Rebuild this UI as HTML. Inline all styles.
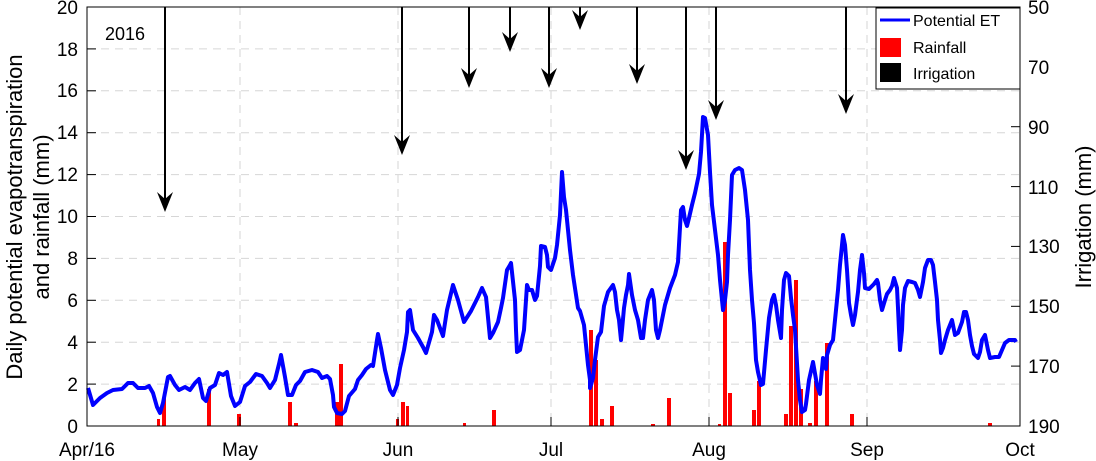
<!DOCTYPE html>
<html><head><style>
body{margin:0;background:#fff;}
svg{display:block;font-family:"Liberation Sans",sans-serif;}
</style></head><body>
<svg width="1096" height="461" viewBox="0 0 1096 461">
<rect width="1096" height="461" fill="#fff"/>
<g stroke="#d6d6d6" stroke-width="1" stroke-dasharray="8,6">
<line x1="240" y1="7" x2="240" y2="426"/><line x1="398" y1="7" x2="398" y2="426"/><line x1="551" y1="7" x2="551" y2="426"/><line x1="709" y1="7" x2="709" y2="426"/><line x1="867" y1="7" x2="867" y2="426"/>
<line x1="87" y1="384.1" x2="1020" y2="384.1"/><line x1="87" y1="342.2" x2="1020" y2="342.2"/><line x1="87" y1="300.3" x2="1020" y2="300.3"/><line x1="87" y1="258.4" x2="1020" y2="258.4"/><line x1="87" y1="216.5" x2="1020" y2="216.5"/><line x1="87" y1="174.6" x2="1020" y2="174.6"/><line x1="87" y1="132.7" x2="1020" y2="132.7"/><line x1="87" y1="90.8" x2="1020" y2="90.8"/><line x1="87" y1="48.9" x2="1020" y2="48.9"/>
</g>
<g fill="#ff0000">
<rect x="157" y="419" width="3" height="7"/><rect x="162" y="398" width="4" height="28"/><rect x="207" y="389" width="4" height="37"/><rect x="237" y="414" width="4" height="12"/><rect x="288" y="402" width="4" height="24"/><rect x="294" y="423" width="4" height="3"/><rect x="335" y="402" width="4" height="24"/><rect x="339" y="364" width="4" height="62"/><rect x="396" y="419" width="3" height="7"/><rect x="401" y="402" width="4" height="24"/><rect x="406" y="406" width="3" height="20"/><rect x="463" y="423" width="3" height="3"/><rect x="492" y="410" width="4" height="16"/><rect x="589" y="330" width="4" height="96"/><rect x="594" y="360" width="4" height="66"/><rect x="600" y="419" width="4" height="7"/><rect x="610" y="406" width="4" height="20"/><rect x="651" y="424" width="4" height="2"/><rect x="667" y="398" width="4" height="28"/><rect x="718" y="424" width="3" height="2"/><rect x="723" y="242" width="4" height="184"/><rect x="728" y="393" width="4" height="33"/><rect x="752" y="410" width="4" height="16"/><rect x="757" y="381" width="4" height="45"/><rect x="784" y="414" width="4" height="12"/><rect x="789" y="326" width="4" height="100"/><rect x="794" y="280" width="4" height="146"/><rect x="799" y="389" width="4" height="37"/><rect x="808" y="423" width="4" height="3"/><rect x="814" y="381" width="4" height="45"/><rect x="825" y="343" width="4" height="83"/><rect x="850" y="414" width="4" height="12"/><rect x="988" y="423" width="4" height="3"/>
</g>
<polyline fill="none" stroke="#0000ff" stroke-width="4" stroke-linejoin="round" points="88,388 93,405 100,398 107,393 113,390 122,389 128,383 133,383 138,388 145,388 149,386 153,393 157,407 160,413 163,403 168,377 170,376 175,385 179,390 185,387 190,390 195,383 199,379 203,398 206,401 210,388 215,385 219,373 223,375 227,372 231,396 235,406 240,402 245,386 250,382 256,374 262,376 267,383 270,388 275,380 279,364 281,355 285,377 288,395 292,395 296,385 300,381 305,372 312,370 318,372 322,378 327,376 330,379 333,395 334,407 337,413 342,414 345,411 349,396 355,389 358,380 362,375 366,369 371,365 373,366 377,340 378,334 381,348 385,370 390,390 393,395 397,385 400,368 404,350 407,332 408,312 410,310 413,330 418,338 423,347 426,353 432,332 434,315 437,320 443,336 447,310 453,285 458,300 464,322 471,311 478,297 482,288 486,297 487,307 490,338 493,333 498,322 501,308 503,298 507,270 510,265 511,263 515,300 516,330 517,352 520,350 524,330 526,300 527,285 529,290 532,290 535,300 537,296 540,266 541,246 545,247 547,255 548,267 551,270 552,267 555,258 557,245 560,215 562,172 564,197 566,210 570,250 573,275 578,308 580,311 584,325 586,345 588,365 590,380 590,388 593,378 595,360 598,337 601,332 604,306 608,292 613,285 615,292 617,310 619,320 621,340 622,330 624,308 626,295 628,285 629,274 632,295 635,310 638,320 641,338 643,338 645,320 648,300 650,295 652,290 654,300 656,330 658,338 660,330 664,310 665,305 670,288 675,275 678,262 681,210 683,207 685,220 687,226 689,218 692,205 695,193 699,174 701,152 703,117 705,118 708,135 710,172 712,205 715,230 718,255 720,280 722,300 723,310 725,300 727,282 728,255 730,220 732,175 735,170 739,168 742,170 745,190 748,220 750,270 752,300 754,323 756,360 758,372 761,385 763,384 766,350 769,318 772,300 774,295 776,305 778,320 781,338 782,310 784,280 786,273 789,276 791,298 793,315 795,330 798,380 800,400 802,412 805,410 806,404 809,380 813,362 817,385 820,394 821,380 823,358 826,369 827,355 830,345 833,340 836,310 838,290 840,265 842,245 843,235 845,245 847,270 848,286 849,303 851,315 853,325 855,315 858,292 860,270 862,255 864,273 865,288 869,289 874,284 877,280 878,283 880,300 882,310 885,300 887,294 890,290 892,286 894,278 897,288 898,308 899,330 900,350 902,330 903,305 905,288 908,281 912,282 915,283 918,290 920,297 923,282 925,268 928,260 931,260 933,265 935,282 937,300 938,320 940,340 941,353 943,348 945,340 948,330 950,325 952,320 954,330 955,335 958,333 962,322 964,312 966,312 968,320 970,335 972,346 974,354 978,358 980,352 982,340 985,335 988,350 990,358 995,357 999,357 1002,350 1005,343 1009,340 1015,340 1016,342"/>
<g stroke="#000" stroke-width="2" fill="#000">
<line x1="165" y1="7" x2="165" y2="200"/><polygon stroke="none" points="165,212 157,192 165,199 173,192"/>
<line x1="402" y1="7" x2="402" y2="143"/><polygon stroke="none" points="402,155 394,135 402,142 410,135"/>
<line x1="469" y1="7" x2="469" y2="76"/><polygon stroke="none" points="469,88 461,68 469,75 477,68"/>
<line x1="510" y1="7" x2="510" y2="40"/><polygon stroke="none" points="510,52 502,32 510,39 518,32"/>
<line x1="549" y1="7" x2="549" y2="76"/><polygon stroke="none" points="549,88 541,68 549,75 557,68"/>
<line x1="580" y1="7" x2="580" y2="18"/><polygon stroke="none" points="580,30 572,10 580,17 588,10"/>
<line x1="637" y1="7" x2="637" y2="72"/><polygon stroke="none" points="637,84 629,64 637,71 645,64"/>
<line x1="686" y1="7" x2="686" y2="158"/><polygon stroke="none" points="686,170 678,150 686,157 694,150"/>
<line x1="716" y1="7" x2="716" y2="108"/><polygon stroke="none" points="716,120 708,100 716,107 724,100"/>
<line x1="846" y1="7" x2="846" y2="102"/><polygon stroke="none" points="846,114 838,94 846,101 854,94"/>
</g>
<rect x="87" y="7" width="933" height="419" fill="none" stroke="#000" stroke-width="1"/>
<g stroke="#000" stroke-width="1">
<line x1="240" y1="426" x2="240" y2="417"/><line x1="398" y1="426" x2="398" y2="417"/><line x1="551" y1="426" x2="551" y2="417"/><line x1="709" y1="426" x2="709" y2="417"/><line x1="867" y1="426" x2="867" y2="417"/>
<line x1="87" y1="384.1" x2="96" y2="384.1"/><line x1="87" y1="342.2" x2="96" y2="342.2"/><line x1="87" y1="300.3" x2="96" y2="300.3"/><line x1="87" y1="258.4" x2="96" y2="258.4"/><line x1="87" y1="216.5" x2="96" y2="216.5"/><line x1="87" y1="174.6" x2="96" y2="174.6"/><line x1="87" y1="132.7" x2="96" y2="132.7"/><line x1="87" y1="90.8" x2="96" y2="90.8"/><line x1="87" y1="48.9" x2="96" y2="48.9"/>
<line x1="1020" y1="66.9" x2="1011" y2="66.9"/><line x1="1020" y1="126.7" x2="1011" y2="126.7"/><line x1="1020" y1="186.6" x2="1011" y2="186.6"/><line x1="1020" y1="246.4" x2="1011" y2="246.4"/><line x1="1020" y1="306.3" x2="1011" y2="306.3"/><line x1="1020" y1="366.1" x2="1011" y2="366.1"/>
</g>
<g font-size="19" fill="#000" text-anchor="end">
<text x="78" y="433">0</text><text x="78" y="391">2</text><text x="78" y="349">4</text><text x="78" y="307">6</text><text x="78" y="265">8</text><text x="78" y="223">10</text><text x="78" y="181">12</text><text x="78" y="139">14</text><text x="78" y="97">16</text><text x="78" y="56">18</text><text x="78" y="14">20</text>
</g>
<g font-size="19" fill="#000">
<text x="1028" y="14">50</text><text x="1028" y="74">70</text><text x="1028" y="134">90</text><text x="1028" y="194">110</text><text x="1028" y="253">130</text><text x="1028" y="313">150</text><text x="1028" y="373">170</text><text x="1028" y="433">190</text>
</g>
<g font-size="19" fill="#000" text-anchor="middle">
<text x="87" y="456">Apr/16</text><text x="240" y="456">May</text><text x="398" y="456">Jun</text><text x="551" y="456">Jul</text><text x="709" y="456">Aug</text><text x="867" y="456">Sep</text><text x="1020" y="456">Oct</text>
</g>
<text x="105" y="40" font-size="18">2016</text>
<g font-size="22" fill="#000" text-anchor="middle">
<text transform="translate(22,217) rotate(-90)">Daily potential evapotranspiration</text>
<text transform="translate(49,217) rotate(-90)">and rainfall (mm)</text>
<text transform="translate(1091,217) rotate(-90)">Irrigation (mm)</text>
</g>
<rect x="876" y="8" width="144" height="81" fill="#fff" stroke="#000" stroke-width="1"/>
<line x1="880" y1="20" x2="910" y2="20" stroke="#0000ff" stroke-width="3"/>
<rect x="880" y="38" width="21" height="19" fill="#ff0000"/>
<rect x="880" y="63" width="21" height="19" fill="#000"/>
<g font-size="16" fill="#000"><text x="913" y="26">Potential ET</text><text x="913" y="53">Rainfall</text><text x="913" y="79">Irrigation</text></g>
</svg>
</body></html>
